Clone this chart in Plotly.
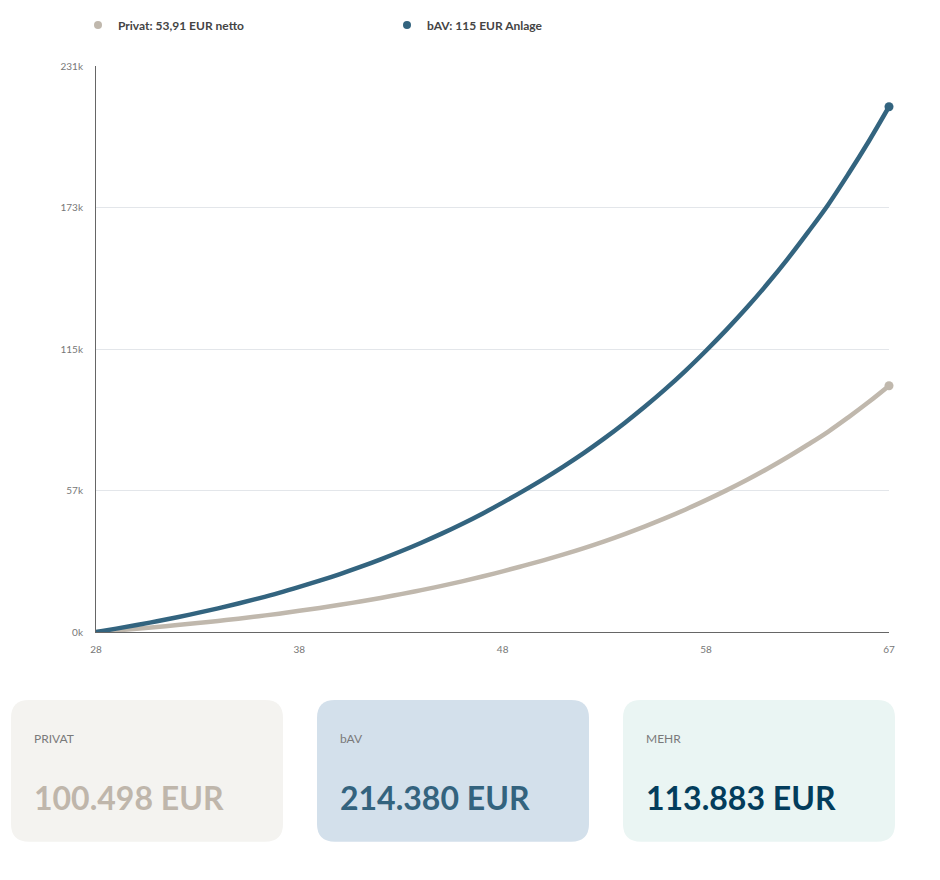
import plotly.graph_objects as go

# ages on the x axis
ages = list(range(28, 68))

# bAV balance per year (EUR)
bav = [0, 1370, 2830, 4390, 6040, 7790, 9650, 11630, 13740, 15980,
       18400, 20950, 23650, 26550, 29650, 32950, 36450, 40150, 44100, 48300,
       52800, 57500, 62400, 67600, 73100, 79000, 85300, 92000, 99100, 106700,
       114800, 123300, 132300, 141900, 152100, 163000, 174300, 186900, 200200, 214380]

# Privat balance per year (EUR)
privat = [0, 640, 1330, 2060, 2830, 3650, 4520, 5450, 6440, 7490,
          8630, 9820, 11090, 12450, 13900, 15450, 17090, 18820, 20670, 22640,
          24750, 26960, 29250, 31690, 34270, 37030, 39990, 43130, 46460, 50020,
          53820, 57800, 62020, 66520, 71300, 76410, 81710, 87620, 93850, 100498]

y_ticks = [0, 57750, 115500, 173250, 231000]
y_ticktext = ['0k', '57k', '115k', '173k', '231k']
x_ticks = [28, 38, 48, 58, 67]

card_labels = ['PRIVAT', 'bAV', 'MEHR']
card_values = ['100.498 EUR', '214.380 EUR', '113.883 EUR']
card_fill = ['#f4f3f0', '#d3e0eb', '#eaf5f3']
card_text = ['#bfb6ab', '#33637e', '#033d5c']

col_bav = '#33647f'
col_privat = '#c0b8ad'

W, H = 940, 880
ML, MR, MT, MB = 96, 51, 65, 248
pw, ph = W - ML - MR, H - MT - MB

def px(x):
    return (x - ML) / pw

def py(y):
    return (H - MB - y) / ph

def rounded(x0, y0, x1, y1, r):
    # rounded rect in pixel coords -> paper path
    a, b, c, d = px(x0), px(x1), py(y0), py(y1)
    rx, ry = r / pw, r / ph
    return (f'M {a+rx},{c} L {b-rx},{c} Q {b},{c} {b},{c-ry} '
            f'L {b},{d+ry} Q {b},{d} {b-rx},{d} L {a+rx},{d} '
            f'Q {a},{d} {a},{d+ry} L {a},{c-ry} Q {a},{c} {a+rx},{c} Z')

n = len(ages)
sizes = [0] * (n - 1) + [9]

fig = go.Figure()
fig.add_trace(go.Scatter(x=ages, y=privat, mode='lines+markers', line=dict(color=col_privat, width=4.5, shape='spline'),
                         marker=dict(size=sizes, color=col_privat, opacity=1, line=dict(width=0)),
                         showlegend=False, hoverinfo='skip', cliponaxis=False))
fig.add_trace(go.Scatter(x=ages, y=bav, mode='lines+markers', line=dict(color=col_bav, width=4.5, shape='spline'),
                         marker=dict(size=sizes, color=col_bav, opacity=1, line=dict(width=0)),
                         showlegend=False, hoverinfo='skip', cliponaxis=False))
# legend entries (dots only)
fig.add_trace(go.Scatter(x=[None], y=[None], mode='markers', marker=dict(size=8, color=col_privat),
                         name='<b>Privat: 53,91 EUR netto</b>'))
fig.add_trace(go.Scatter(x=[None], y=[None], mode='markers', marker=dict(size=8, color=col_bav),
                         name='<b>bAV: 115 EUR Anlage</b>'))

shapes = []
annotations = []
card_x = [11, 317, 623]
for i in range(3):
    x0 = card_x[i]
    shapes.append(dict(type='path', path=rounded(x0, 700, x0 + 272, 842, 18), xref='paper', yref='paper',
                       fillcolor=card_fill[i], line=dict(width=0), layer='below'))
    annotations.append(dict(x=px(x0 + 21), y=py(739), xref='paper', yref='paper', text=card_labels[i],
                            showarrow=False, xanchor='left', yanchor='middle',
                            font=dict(family='Lato', size=12, color='#7a7a7a')))
    annotations.append(dict(x=px(x0 + 21), y=py(798), xref='paper', yref='paper', text='<b>' + card_values[i] + '</b>',
                            showarrow=False, xanchor='left', yanchor='middle',
                            font=dict(family='Lato', size=32, color=card_text[i])))

fig.update_layout(
    width=W, height=H,
    margin=dict(l=ML, r=MR, t=MT, b=MB),
    paper_bgcolor='white', plot_bgcolor='white',
    font=dict(family='Lato', size=10, color='#777777'),
    legend=dict(orientation='h', x=px(78), y=py(25), xanchor='left', yanchor='middle',
                entrywidth=264, entrywidthmode='pixels', font=dict(family='Lato', size=12, color='#444444')),
    xaxis=dict(range=[28, 67], tickvals=x_ticks, showgrid=False, showline=True, linecolor='#666666',
               linewidth=1, zeroline=False, ticks='', ticklabelstandoff=8, tickfont=dict(size=10, color='#777777')),
    yaxis=dict(range=[0, 231000], tickvals=y_ticks, ticktext=y_ticktext, showgrid=True, gridcolor='#e3e6ea',
               showline=True, linecolor='#666666', linewidth=1, zeroline=False, ticks='', ticklabelstandoff=10,
               tickfont=dict(size=10, color='#777777')),
    shapes=shapes, annotations=annotations,
)

fig.write_html("out.html", config={'displayModeBar': False},
               post_script="document.body.style.margin='0';")
